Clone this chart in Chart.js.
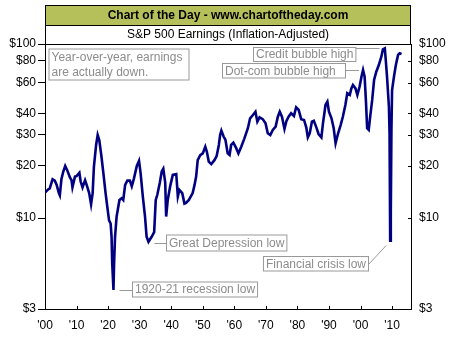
<!DOCTYPE html>
<html>
<head>
<meta charset="utf-8">
<script src="https://cdn.jsdelivr.net/npm/chart.js@4.4.0/dist/chart.umd.min.js"></script>
<style>
    body { margin: 0; background: #fff; }
    #wrap { width: 454px; height: 340px; }
</style>
</head>
<body>
<div id="wrap"><canvas id="earnings-chart" width="454" height="340"></canvas></div>
<script>
// S&P 500 earnings, inflation adjusted
const years = [
    1900.0, 1901.0, 1901.5, 1902.4, 1903.1, 1903.7, 1904.4, 1904.7, 1905.2, 1905.8,
    1906.4, 1907.0, 1907.9, 1908.4, 1908.7, 1909.5, 1910.0, 1910.9, 1911.3, 1911.9,
    1912.7, 1913.2, 1914.0, 1914.6, 1915.1, 1915.5, 1916.2, 1916.7, 1917.2, 1917.9,
    1918.5, 1919.2, 1919.8, 1920.3, 1920.8, 1921.1, 1921.3, 1921.7, 1921.9, 1922.2,
    1922.7, 1923.6, 1924.3, 1924.8, 1925.4, 1926.1, 1926.9, 1927.5, 1928.2, 1929.1,
    1929.8, 1930.3, 1931.0, 1931.7, 1932.2, 1932.8, 1933.8, 1934.6, 1935.1, 1935.6,
    1936.4, 1937.0, 1937.5, 1938.1, 1938.4, 1938.9, 1939.7, 1940.5, 1941.6, 1942.1,
    1942.6, 1943.5, 1944.2, 1944.7, 1945.6, 1946.8, 1947.4, 1947.9, 1948.4, 1949.2,
    1950.0, 1950.8, 1951.3, 1951.9, 1952.7, 1953.7, 1954.4, 1955.1, 1955.5, 1955.9,
    1956.6, 1957.2, 1957.9, 1958.5, 1959.0, 1959.7, 1960.6, 1961.3, 1962.2, 1963.2,
    1964.3, 1965.0, 1965.9, 1966.7, 1967.3, 1968.0, 1969.0, 1969.9, 1970.6, 1971.4,
    1972.2, 1973.1, 1973.8, 1974.4, 1975.1, 1975.9, 1976.5, 1977.2, 1978.0, 1978.9,
    1979.6, 1980.4, 1981.2, 1982.1, 1982.8, 1983.3, 1983.9, 1984.6, 1985.2, 1986.0,
    1986.7, 1987.6, 1988.1, 1988.9, 1989.5, 1990.0, 1990.8, 1991.5, 1992.1, 1992.9,
    1993.7, 1994.4, 1995.2, 1995.8, 1996.6, 1997.1, 1997.6, 1998.4, 1999.0, 1999.7,
    2000.3, 2000.8, 2001.3, 2001.7, 2002.1, 2002.6, 2003.0, 2003.7, 2004.3, 2005.0,
    2005.8, 2006.6, 2007.1, 2007.7, 2008.0, 2008.4, 2009.0, 2009.2, 2009.4, 2009.6,
    2009.8, 2010.0, 2010.6, 2011.2, 2011.9, 2012.4, 2013.0
];
const earnings = [
    14.0, 14.6, 14.8, 16.7, 16.4, 15.5, 13.9, 13.5, 16.7, 18.5,
    19.9, 18.9, 17.1, 16.5, 15.0, 17.3, 17.4, 18.2, 16.2, 15.0,
    16.5, 15.5, 13.9, 12.0, 13.9, 19.7, 26.3, 30.0, 28.1, 22.5,
    18.1, 13.9, 11.4, 9.7, 9.3, 7.8, 5.5, 3.86, 5.5, 7.8,
    10.2, 12.7, 13.0, 12.7, 15.5, 16.4, 16.4, 15.2, 16.9, 19.9,
    21.3, 18.1, 13.3, 10.2, 7.8, 7.3, 7.8, 8.3, 12.7, 13.6,
    16.0, 18.5, 19.2, 16.0, 10.2, 12.7, 15.3, 17.7, 17.9, 13.3,
    14.5, 13.9, 12.1, 12.2, 12.7, 13.9, 15.5, 17.3, 21.5, 23.0,
    23.5, 25.7, 24.0, 21.1, 20.4, 21.5, 22.7, 26.3, 30.0, 31.8,
    29.4, 28.1, 23.5, 23.0, 26.3, 27.1, 25.2, 23.5, 25.7, 28.7,
    32.8, 37.4, 39.1, 40.8, 35.8, 37.9, 37.0, 35.0, 30.7, 30.0,
    32.1, 33.5, 38.2, 40.8, 38.2, 32.5, 36.0, 38.2, 40.0, 38.6,
    43.3, 41.8, 37.0, 36.6, 33.2, 29.1, 30.7, 35.8, 36.2, 33.2,
    30.4, 29.1, 35.0, 44.6, 46.6, 40.8, 37.4, 32.8, 26.9, 30.7,
    34.2, 38.2, 44.6, 52.1, 51.0, 55.6, 58.1, 55.6, 51.0, 56.8,
    64.9, 70.9, 64.9, 47.7, 32.8, 32.1, 37.4, 47.7, 62.1, 69.3,
    75.7, 84.5, 93.2, 94.5, 80.9, 64.9, 43.6, 30.7, 7.4, 10.6,
    32.1, 54.4, 64.9, 75.7, 86.5, 88.4, 87.6
];

const yTicks = [3, 10, 20, 30, 40, 60, 80, 100];

const chartTitle = "Chart of the Day - www.chartoftheday.com";
const chartSubtitle = "S&P 500 Earnings (Inflation-Adjusted)";

// callouts: text, the point they point at (year, value)
const notes = [
    { lines: ["Year-over-year, earnings", "are actually down."], box: [49, 49, 140, 31] },
    { lines: ["Credit bubble high"], box: [253.5, 47.5, null, 14], target: [2007.3, 95], side: "right" },
    { lines: ["Dot-com bubble high"], box: [222.5, 63.5, 123, 14.5], target: [2000.8, 71], side: "right" },
    { lines: ["Great Depression low"], box: [166.5, 235, null, 16], target: [1932.8, 7.2], side: "left" },
    { lines: ["1920-21 recession low"], box: [132.5, 282, null, 15], target: [1921.7, 3.86], side: "left" },
    { lines: ["Financial crisis low"], box: [null, 256.5, null, 14.5], right: 368.5, target: [2009.4, 7.4], side: "diag" }
];

Chart.defaults.font.family = "'Liberation Sans', Arial, sans-serif";
Chart.defaults.font.size = 12;
Chart.defaults.color = "#000";

const frame_plugin = {
    id: "frame",
    afterDraw(chart)
    {
        const ctx = chart.ctx;
        const area = chart.chartArea;
        const xs = chart.scales.x;
        const ys = chart.scales.y;
        ctx.save();

        // title block
        ctx.fillStyle = "#b5c05a";
        ctx.fillRect(area.left, 5, area.right - area.left, 20);
        ctx.strokeStyle = "#000";
        ctx.lineWidth = 1;
        ctx.strokeRect(area.left + 0.5, 5.5, area.right - area.left - 1, area.top - 5);
        ctx.beginPath();
        ctx.moveTo(area.left, 25.5);
        ctx.lineTo(area.right, 25.5);
        ctx.moveTo(area.left, area.top + 0.5);
        ctx.lineTo(area.right, area.top + 0.5);
        ctx.stroke();

        ctx.fillStyle = "#000";
        ctx.textAlign = "center";
        ctx.textBaseline = "middle";
        const mid = (area.left + area.right) / 2;
        ctx.font = "bold 12px 'Liberation Sans', Arial, sans-serif";
        ctx.fillText(chartTitle, mid, 15.5);
        ctx.font = "12px 'Liberation Sans', Arial, sans-serif";
        ctx.fillText(chartSubtitle, mid, 35);

        // inside tick marks on the bottom and right axes
        ctx.beginPath();
        xs.ticks.forEach(t => {
            const px = Math.round(xs.getPixelForValue(t.value)) + 0.5;
            ctx.moveTo(px, area.bottom - 3);
            ctx.lineTo(px, area.bottom);
        });
        yTicks.forEach(v => {
            const py = Math.round(ys.getPixelForValue(v)) + 0.5;
            ctx.moveTo(area.right - 3, py);
            ctx.lineTo(area.right, py);
        });
        ctx.stroke();

        // callouts
        ctx.font = "12px 'Liberation Sans', Arial, sans-serif";
        ctx.textAlign = "left";
        ctx.strokeStyle = "#999";
        ctx.fillStyle = "#8c8c8c";
        notes.forEach(n => {
            let [bx, by, bw, bh] = n.box;
            if (bw === null)
            {
                bw = Math.max(...n.lines.map(l => ctx.measureText(l).width)) + 5;
            }
            if (bx === null)
            {
                bx = n.right - bw;
            }
            ctx.fillStyle = "#fff";
            ctx.fillRect(bx, by, bw, bh);
            ctx.strokeRect(bx, by, bw, bh);
            ctx.fillStyle = "#8c8c8c";
            const lh = bh / n.lines.length;
            n.lines.forEach((l, i) => ctx.fillText(l, bx + 2.5, by + lh * i + lh / 2 + 0.5));

            if (n.target)
            {
                const tx = xs.getPixelForValue(n.target[0]);
                const ty = Math.round(ys.getPixelForValue(n.target[1])) + 0.5;
                ctx.beginPath();
                if (n.side === "right")
                {
                    ctx.moveTo(bx + bw, ty);
                    ctx.lineTo(tx - 4, ty);
                }
                else if (n.side === "left")
                {
                    ctx.moveTo(bx, ty);
                    ctx.lineTo(tx + 6, ty);
                }
                else
                {
                    ctx.moveTo(bx + bw, by + 8);
                    ctx.lineTo(tx - 4, ty + 4);
                }
                ctx.stroke();
            }
        });
        ctx.restore();
    }
};

const chart_ctx = document.getElementById("earnings-chart").getContext("2d");

const earnings_chart = new Chart(chart_ctx, {
    type: "line",
    data: {
        datasets: [{
            label: "S&P 500 Earnings",
            data: years.map((yr, i) => ({ x: yr, y: earnings[i] })),
            borderColor: "#000080",
            borderWidth: 2.6,
            pointRadius: 0,
            tension: 0,
            yAxisID: "y"
        }]
    },
    options: {
        responsive: false,
        animation: false,
        devicePixelRatio: 1,
        layout: { padding: { top: 44, left: 0, right: 0, bottom: 0 } },
        plugins: {
            legend: { display: false },
            tooltip: { enabled: false }
        },
        scales: {
            x: {
                type: "linear",
                min: 1900,
                max: 2016,
                afterFit: s => { s.height = 31; },
                border: { color: "#000", width: 1 },
                grid: { drawOnChartArea: false, drawTicks: false },
                ticks: {
                    stepSize: 10,
                    includeBounds: false,
                    autoSkip: false,
                    maxRotation: 0,
                    padding: 9,
                    callback: v => "'" + String(v % 100).padStart(2, "0")
                }
            },
            y: {
                type: "logarithmic",
                position: "left",
                min: 3,
                max: 100,
                afterFit: s => { s.width = 45; },
                afterBuildTicks: s => { s.ticks = yTicks.map(v => ({ value: v })); },
                border: { color: "#000", width: 1 },
                grid: { drawOnChartArea: false, drawTicks: true, tickLength: 7, color: "#000" },
                ticks: {
                    padding: 2,
                    callback: v => "$" + v
                }
            },
            y2: {
                type: "logarithmic",
                position: "right",
                min: 3,
                max: 100,
                afterFit: s => { s.width = 43; },
                afterBuildTicks: s => { s.ticks = yTicks.map(v => ({ value: v })); },
                border: { color: "#000", width: 1 },
                grid: { drawOnChartArea: false, drawTicks: false },
                ticks: {
                    padding: 8,
                    callback: v => "$" + v
                }
            }
        }
    },
    plugins: [frame_plugin]
});
</script>
</body>
</html>
